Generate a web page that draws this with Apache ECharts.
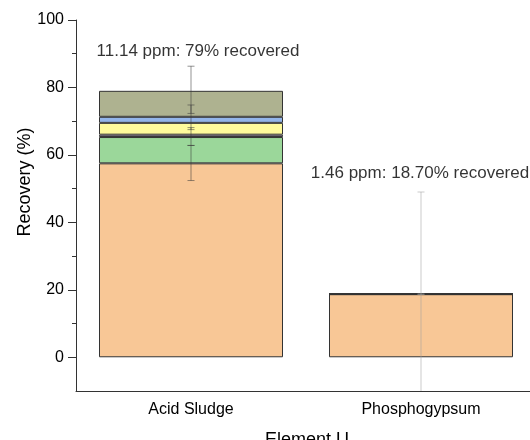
<!DOCTYPE html>
<html>
<head>
<meta charset="utf-8">
<script src="https://cdn.jsdelivr.net/npm/echarts@6/dist/echarts.min.js"></script>
<style>
  html, body { margin: 0; padding: 0; background: #fff; }
  #chart { width: 530px; height: 440px; }
</style>
</head>
<body>
<div id="chart"></div>
<script>
// Sample names on the category axis
const categories = ['Acid Sludge', 'Phosphogypsum'];

// Recovery (%) contributed by each stacked fraction, per sample
const fractionA = [57.5, 18.7];
const fractionB = [7.8, 0];
const fractionC = [0.7, 0];
const fractionD = [3.5, 0];
const fractionE = [1.8, 0];
const fractionF = [7.7, 0];

// Annotation values per sample
const concentrationPpm = ['11.14', '1.46'];
const recoveredText = ['79%', '18.70%'];
const annotationLevel = [90.6, 54.6];

// Error bars: [category index, low, high]
const errorBars = [
  [0, 52.4, 62.8],
  [0, 62.8, 74.8],
  [0, 67.5, 68.1],
  [0, 72.3, 86.3],
  [1, 18.7, 18.7],
  [1, -11.6, 49.0]
];

// Axis ticks
const yMajorTicks = [0, 20, 40, 60, 80, 100];
const yMinorTicks = [10, 30, 50, 70, 90];
const yMin = -10;
const yMax = 100;

const fractions = [fractionA, fractionB, fractionC, fractionD, fractionE, fractionF];
const fractionColors = ['#F8C796', '#9BD79A', '#C7A9DB', '#FFFB9C', '#93B5EA', '#AEB290'];
const errorBarColors = ['rgba(60,60,60,0.55)', 'rgba(160,160,160,0.55)'];
const FONT = '"Liberation Sans", Arial, sans-serif';
const TEXT = '#000';
const AXIS = '#333';

const chart = echarts.init(document.getElementById('chart'), null, { renderer: 'canvas' });

const barSeries = fractions.map((vals, i) => ({
  type: 'bar',
  stack: 'recovery',
  barWidth: '80%',
  data: vals,
  itemStyle: { color: fractionColors[i], borderColor: '#333', borderWidth: 1 },
  emphasis: { disabled: true },
  silent: true,
  z: 2
}));

const errorSeries = {
  type: 'custom',
  data: errorBars,
  encode: { x: 0, y: [1, 2] },
  z: 5,
  silent: true,
  renderItem(params, api) {
    const cat = api.value(0);
    const lowRaw = api.value(1);
    const highRaw = api.value(2);
    const low = Math.max(lowRaw, yMin);
    const high = Math.min(highRaw, yMax);
    const pLow = api.coord([cat, low]);
    const pHigh = api.coord([cat, high]);
    const stroke = errorBarColors[cat];
    const half = 3.5;
    const children = [{
      type: 'line',
      shape: { x1: pLow[0], y1: pLow[1], x2: pHigh[0], y2: pHigh[1] },
      style: { stroke, lineWidth: 1 }
    }];
    if (lowRaw >= yMin) {
      children.push({ type: 'line', shape: { x1: pLow[0] - half, y1: pLow[1], x2: pLow[0] + half, y2: pLow[1] }, style: { stroke, lineWidth: 1 } });
    }
    children.push({ type: 'line', shape: { x1: pHigh[0] - half, y1: pHigh[1], x2: pHigh[0] + half, y2: pHigh[1] }, style: { stroke, lineWidth: 1 } });
    return { type: 'group', children };
  }
};

const annotationSeries = {
  type: 'scatter',
  symbolSize: 0,
  silent: true,
  z: 6,
  data: categories.map((c, i) => [i, annotationLevel[i]]),
  label: {
    show: true,
    position: 'inside',
    fontFamily: FONT,
    fontSize: 17,
    color: TEXT,
    formatter: (p) => concentrationPpm[p.dataIndex] + ' ppm: ' + recoveredText[p.dataIndex] + ' recovered'
  },
  labelLayout: (p) => ({ dx: p.dataIndex === 0 ? 7 : -1 })
};

chart.setOption({
  animation: false,
  backgroundColor: '#fff',
  grid: { left: 76, top: 20, width: 460, height: 371, outerBoundsMode: 'none', containLabel: false },
  xAxis: [
    {
      type: 'category',
      data: categories,
      axisLine: { onZero: false, lineStyle: { color: AXIS, width: 1 } },
      axisTick: { alignWithLabel: true, length: 6, lineStyle: { color: AXIS } },
      axisLabel: { fontFamily: FONT, fontSize: 16, color: TEXT, margin: 11 }
    },
    {
      type: 'category',
      data: categories,
      position: 'bottom',
      axisLine: { show: false, onZero: false },
      axisTick: { length: 3, lineStyle: { color: AXIS } },
      axisLabel: { show: false }
    }
  ],
  yAxis: [
    {
      type: 'value',
      min: yMin,
      max: yMax,
      splitLine: { show: false },
      axisLine: { show: true, lineStyle: { color: AXIS, width: 1 } },
      axisTick: { show: true, length: 8, customValues: yMajorTicks, lineStyle: { color: AXIS } },
      axisLabel: { fontFamily: FONT, fontSize: 16, color: TEXT, margin: 12, customValues: yMajorTicks }
    },
    {
      type: 'value',
      min: yMin,
      max: yMax,
      position: 'left',
      splitLine: { show: false },
      axisLine: { show: false },
      axisTick: { show: true, length: 4, customValues: yMinorTicks, lineStyle: { color: AXIS } },
      axisLabel: { show: false }
    }
  ],
  graphic: [
    {
      type: 'text',
      x: 25,
      y: 182,
      rotation: Math.PI / 2,
      style: { text: 'Recovery (%)', fontFamily: FONT, fontSize: 18, fill: TEXT, align: 'center', verticalAlign: 'middle' }
    },
    {
      type: 'text',
      x: 307,
      y: 440,
      style: { text: 'Element U', fontFamily: FONT, fontSize: 18, fill: TEXT, align: 'center', verticalAlign: 'middle' }
    }
  ],
  series: [...barSeries, errorSeries, annotationSeries]
});
</script>
</body>
</html>
